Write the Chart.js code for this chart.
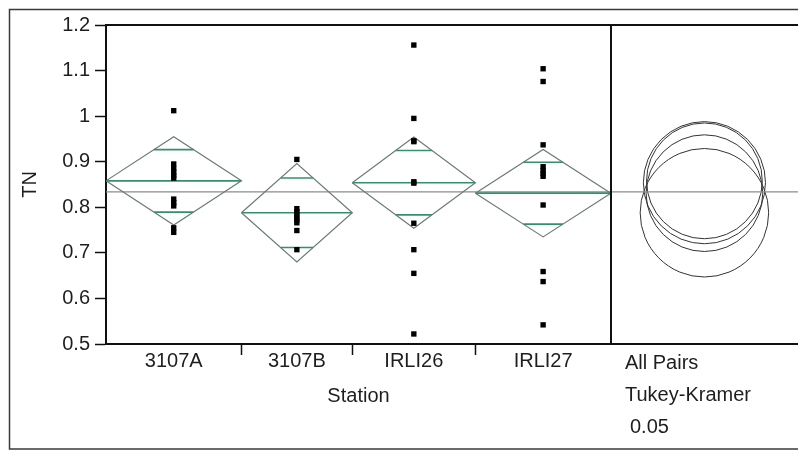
<!DOCTYPE html>
<html>
<head>
<meta charset="utf-8">
<script src="https://cdn.jsdelivr.net/npm/chart.js@4.4.0/dist/chart.umd.min.js"></script>
<style>
  html, body { margin: 0; padding: 0; background: #fff; }
  #wrap { width: 798px; height: 450px; }
</style>
</head>
<body>
<div id="wrap"><canvas id="myChart" width="798" height="450"></canvas></div>
<script>
// stations and sample sizes (group widths follow n)
const stations = ['3107A', '3107B', 'IRLI26', 'IRLI27'];
const groupSizes = [11, 9, 10, 11];

// TN observations per station
const tn3107A = [1.012, 0.895, 0.885, 0.877, 0.87, 0.864, 0.818, 0.81, 0.803, 0.755, 0.745];
const tn3107B = [0.905, 0.797, 0.79, 0.784, 0.778, 0.772, 0.766, 0.749, 0.707];
const tnIRLI26 = [1.156, 0.995, 0.946, 0.944, 0.856, 0.853, 0.765, 0.707, 0.655, 0.522];
const tnIRLI27 = [1.104, 1.076, 0.937, 0.889, 0.881, 0.874, 0.868, 0.805, 0.659, 0.637, 0.542];

// means diamonds: mean and 95% CI half width
const groupMeans = [0.858, 0.788, 0.854, 0.831];
const ciHalf = [0.097, 0.108, 0.100, 0.096];
const grandMean = 0.834;

// Tukey-Kramer comparison circles, radius in TN units
const circleRadii = [0.127, 0.141, 0.134, 0.128];

const yTicks = [0.5, 0.6, 0.7, 0.8, 0.9, 1, 1.1, 1.2];
const yTickLabels = ['0.5', '0.6', '0.7', '0.8', '0.9', '1', '1.1', '1.2'];

const compareLabels = ['All Pairs', 'Tukey-Kramer', '0.05'];

// ---- derived geometry
const observations = [tn3107A, tn3107B, tnIRLI26, tnIRLI27];
const bounds = [0];
groupSizes.forEach(n => bounds.push(bounds[bounds.length - 1] + n));
const centers = groupSizes.map((n, i) => bounds[i] + n / 2);
const panelWidth = 15.2;               // room for the comparison circles panel
const xMax = bounds[bounds.length - 1] + panelWidth;
const circleX = bounds[bounds.length - 1] + panelWidth / 2;

const FONT = '"Liberation Sans", Arial, sans-serif';
const DIAMOND = '#6a7c72';
const GREEN = '#33906a';

const datasets = [];

// points
datasets.push({
  type: 'scatter',
  data: observations.flatMap((arr, i) => arr.map(v => ({ x: centers[i], y: v }))),
  pointStyle: 'rect',
  pointRadius: 3.8,
  backgroundColor: '#000',
  borderWidth: 0
});

// diamonds, mean lines, overlap marks
groupMeans.forEach((m, i) => {
  const l = bounds[i], r = bounds[i + 1], c = centers[i], h = ciHalf[i];
  const line = (data, color, width) => ({
    type: 'scatter', data, showLine: true, borderColor: color, borderWidth: width,
    pointRadius: 0, tension: 0, fill: false
  });
  datasets.push(line([{x: l, y: m}, {x: c, y: m + h}, {x: r, y: m}, {x: c, y: m - h}, {x: l, y: m}], DIAMOND, 1.2));
  datasets.push(line([{x: l, y: m}, {x: r, y: m}], GREEN, 1.6));
  const ov = h * Math.SQRT1_2;
  const half = (r - l) / 2 * (1 - Math.SQRT1_2);
  datasets.push(line([{x: c - half, y: m + ov}, {x: c + half, y: m + ov}], GREEN, 1.6));
  datasets.push(line([{x: c - half, y: m - ov}, {x: c + half, y: m - ov}], GREEN, 1.6));
});

// grand mean
datasets.push({
  type: 'scatter',
  data: [{x: 0, y: grandMean}, {x: xMax, y: grandMean}],
  showLine: true, borderColor: '#8c8c8c', borderWidth: 1.2, pointRadius: 0
});

// comparison circles (bubble r is set in pixels once the y scale is laid out)
const circleSet = {
  type: 'bubble',
  data: groupMeans.map(m => ({ x: circleX, y: m })),
  backgroundColor: 'rgba(0,0,0,0)',
  borderColor: '#333',
  borderWidth: 1
};
datasets.push(circleSet);

const framePlugin = {
  id: 'frame',
  afterDraw(chart) {
    const { ctx, chartArea: a, scales: { x } } = chart;
    ctx.save();
    ctx.strokeStyle = '#3a3a3a';
    ctx.lineWidth = 1.5;
    ctx.strokeRect(9.5, 9.5, chart.width, chart.height - 10.5);

    ctx.strokeStyle = '#111';
    ctx.lineWidth = 2;
    ctx.beginPath();
    ctx.moveTo(a.left, a.top);
    ctx.lineTo(a.right, a.top);
    const sx = Math.round(x.getPixelForValue(bounds[bounds.length - 1]));
    ctx.moveTo(sx, a.top);
    ctx.lineTo(sx, a.bottom);
    ctx.stroke();

    ctx.lineWidth = 1.5;
    ctx.beginPath();
    bounds.slice(1, -1).forEach(b => {
      const px = Math.round(x.getPixelForValue(b)) + 0.5;
      ctx.moveTo(px, a.bottom);
      ctx.lineTo(px, a.bottom + 11);
    });
    ctx.stroke();

    ctx.fillStyle = '#1e1e1e';
    ctx.font = '20px ' + FONT;
    ctx.textBaseline = 'middle';
    ctx.textAlign = 'center';
    ctx.fillText('Station', (x.getPixelForValue(0) + sx) / 2, 396);
    ctx.textAlign = 'left';
    ctx.fillText(compareLabels[0], sx + 14, 363);
    ctx.fillText(compareLabels[1], sx + 14, 395);
    ctx.fillText(compareLabels[2], sx + 19, 427);
    ctx.restore();
  }
};

function initChart() {
  const canvas = document.getElementById('myChart');
  const chart = new Chart(canvas.getContext('2d'), {
    type: 'scatter',
    data: { datasets },
    options: {
      responsive: false,
      animation: false,
      devicePixelRatio: 1,
      events: [],
      layout: { autoPadding: false, padding: { top: 25, left: 0, right: 0, bottom: 0 } },
      plugins: { legend: { display: false }, tooltip: { enabled: false } },
      scales: {
        x: {
          type: 'linear',
          min: 0,
          max: xMax,
          afterBuildTicks: (s) => { s.ticks = centers.map(v => ({ value: v })); },
          afterFit: (s) => { s.height = 106; },
          ticks: {
            autoSkip: false,
            maxRotation: 0,
            padding: 5,
            color: '#1e1e1e',
            font: { family: FONT, size: 20 },
            callback: (v, i) => stations[i]
          },
          grid: { display: false, drawTicks: false },
          border: { display: true, color: '#111', width: 2 }
        },
        y: {
          min: 0.5,
          max: 1.2,
          afterBuildTicks: (s) => { s.ticks = yTicks.map(v => ({ value: v })); },
          afterFit: (s) => { s.width = 106; },
          ticks: {
            padding: 5,
            color: '#1e1e1e',
            font: { family: FONT, size: 20 },
            callback: (v, i) => yTickLabels[i]
          },
          grid: { display: true, drawOnChartArea: false, drawTicks: true, tickLength: 11, color: '#111', tickWidth: 1.5 },
          border: { display: true, color: '#111', width: 2 },
          title: {
            display: true,
            text: 'TN',
            color: '#1e1e1e',
            font: { family: FONT, size: 20 },
            padding: { top: 18, bottom: 0 }
          }
        }
      }
    },
    plugins: [framePlugin]
  });

  // circle radius: TN half-width converted to pixels on the y scale
  const ys = chart.scales.y;
  circleSet.data.forEach((d, i) => {
    d.r = Math.abs(ys.getPixelForValue(groupMeans[i]) - ys.getPixelForValue(groupMeans[i] + circleRadii[i]));
  });
  chart.update();
}

window.addEventListener('load', initChart);
</script>
</body>
</html>
